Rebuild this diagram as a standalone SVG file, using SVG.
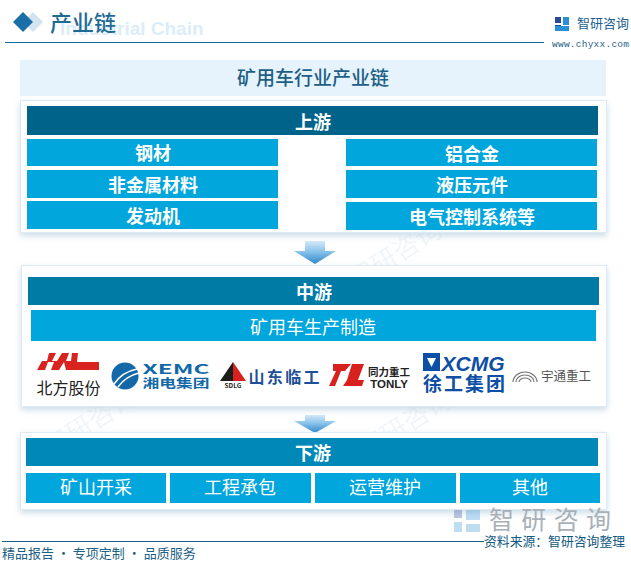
<svg xmlns="http://www.w3.org/2000/svg" width="631" height="570" viewBox="0 0 631 570">
<defs>
<linearGradient id="arr" x1="0" y1="0" x2="0" y2="1"><stop offset="0" stop-color="#d5e9f7"/><stop offset="0.5" stop-color="#82bfe8"/><stop offset="1" stop-color="#2f87c8"/></linearGradient>
<filter id="sh" x="-5%" y="-10%" width="110%" height="125%"><feDropShadow dx="0" dy="3" stdDeviation="3" flood-color="#a9c6d8" flood-opacity="0.6"/></filter>
</defs>
<style>
text{font-family:"Noto Sans CJK SC","Liberation Sans",sans-serif}
.panel{fill:#fff;stroke:#dcebf6;stroke-width:1;filter:url(#sh)}
.box{fill:#00a6dc}
.t{fill:#fff;font-size:18px;text-anchor:middle}
.b{font-weight:700}
.wm{fill:#5b8db5;opacity:.08;font-size:26px;text-anchor:middle}
.lg{text-anchor:middle;font-weight:700}
</style>
<rect width="631" height="570" fill="#fff"/>
<g id="watermarks">
<text class="wm" transform="translate(400 262) rotate(-32)">智研咨询</text>
<text class="wm" transform="translate(95 430) rotate(-32)">智研咨询</text>
<text class="wm" transform="translate(410 432) rotate(-32)">智研咨询</text>
</g>
<g id="header">
<text x="60" y="35" font-size="19" font-weight="700" fill="#dcedf9" style="font-family:'Liberation Sans',sans-serif">Industrial Chain</text>
<polygon points="33,12 43,22 33,32 23,22" fill="#d3e4ef"/>
<polygon points="23,12 33,22 23,32 13,22" fill="#1a6fa8"/>
<text x="50" y="31" font-size="22" font-weight="500" fill="#1d6a96">产业链</text>
<rect x="5" y="42" width="539" height="1" fill="#0f6f9c"/>
<rect x="555" y="17" width="6" height="6" fill="#2b4a96"/><rect x="555" y="25" width="6" height="6" fill="#2b4a96"/><rect x="563" y="17" width="6" height="8" fill="#2b8fd6"/><rect x="555" y="26" width="14" height="5" fill="#2b8fd6"/>
<text x="577" y="28" font-size="13" fill="#1d5f92">智研咨询</text>
<text x="552" y="47" font-size="9.500" fill="#1f5f86" style="font-family:'Liberation Mono',monospace" textLength="77">www.chyxx.com</text>
</g>
<g id="title">
<rect x="20" y="60" width="586" height="36" fill="#e6f3fc"/>
<text x="313" y="85" font-size="19" font-weight="500" fill="#1d5f86" text-anchor="middle">矿用车行业产业链</text>
</g>
<g id="connectors">
<path d="M305 241H325V251H336L315 264L294 251H305Z" fill="url(#arr)"/>
<path d="M305 415H325V421H336L315 433L294 421H305Z" fill="url(#arr)"/>
</g>
<g id="upstream">
<rect class="panel" x="20.500" y="100.500" width="586" height="132"/>
<rect x="27" y="106" width="571" height="29" fill="#00648a"/>
<text class="t b" x="313" y="129">上游</text>
</g>
<g id="n1"><rect class="box" x="27" y="139" width="251" height="27"/><text class="t b" x="153" y="160">钢材</text></g>
<g id="n2"><rect class="box" x="27" y="170" width="251" height="28"/><text class="t b" x="153" y="192">非金属材料</text></g>
<g id="n3"><rect class="box" x="27" y="201" width="251" height="28"/><text class="t b" x="153" y="223">发动机</text></g>
<g id="n4"><rect class="box" x="346" y="139" width="251" height="27"/><text class="t b" x="472" y="161">铝合金</text></g>
<g id="n5"><rect class="box" x="346" y="170" width="251" height="28"/><text class="t b" x="472" y="192">液压元件</text></g>
<g id="n6"><rect class="box" x="346" y="202" width="251" height="28"/><text class="t b" x="472" y="224">电气控制系统等</text></g>
<g id="midstream">
<rect class="panel" x="21.500" y="265.500" width="585" height="141"/>
<rect x="28" y="277" width="571" height="28" fill="#007ba6"/>
<text class="t b" x="314" y="299">中游</text>
<rect class="box" x="31" y="310" width="565" height="31"/>
<text class="t" x="313" y="334">矿用车生产制造</text>
</g>
<g id="logo-beifang">
<path d="M37 370L42 361H47L49 353H56L52 361H57L62 353H69L66 361H71L72 353H78L77 362H99V370H66L64 362L59 370H51L54 362H48L45 370Z" fill="#d9231f"/>
<text x="68.500" y="394" font-size="16" fill="#222" text-anchor="middle">北方股份</text>
</g>
<g id="logo-xemc">
<circle cx="125" cy="376" r="13.500" fill="#1368a8"/>
<path d="M114 384Q122 372 137 369M118 387Q126 376 139 373" stroke="#fff" stroke-width="1.500" fill="none"/>
<text class="lg" x="176" y="374" font-size="13" fill="#1368a8" textLength="67" lengthAdjust="spacingAndGlyphs">XEMC</text>
<text class="lg" x="176" y="388" font-size="12" fill="#1368a8" textLength="67" lengthAdjust="spacingAndGlyphs">湘电集团</text>
</g>
<g id="logo-sdlg">
<polygon points="233,362 220,381 233,381" fill="#1c1c1c"/><polygon points="233,362 246,381 233,381" fill="#d8201f"/>
<text class="lg" x="233" y="388" font-size="6.500" fill="#222">SDLG</text>
<text class="lg" x="284" y="383" font-size="16" fill="#1f4f96" textLength="71" lengthAdjust="spacing">山东临工</text>
</g>
<g id="logo-tonly">
<polygon points="329,364 347,364 341,371 337,371 331,386 325,386 332,371 329,371" fill="#d8201f" transform="translate(4 0)"/>
<polygon points="352,364 364,364 358,380 364,380 362,386 343,386 347,380 352,364" fill="#d8201f"/>
<text x="389" y="376" font-size="10.500" font-weight="700" fill="#222" text-anchor="middle">同力重工</text>
<text x="389" y="388" font-size="11.500" font-weight="700" fill="#222" text-anchor="middle" style="font-family:'Liberation Sans',sans-serif">TONLY</text>
</g>
<g id="logo-xcmg">
<rect x="423" y="353" width="17" height="18" fill="#0d4ea6"/><polygon points="427,358 436,358 431.500,367" fill="#fff"/>
<text x="473" y="371" font-size="21" font-weight="700" font-style="italic" fill="#0d4ea6" text-anchor="middle" textLength="63" lengthAdjust="spacingAndGlyphs" style="font-family:'Liberation Sans',sans-serif">XCMG</text>
<text class="lg" x="464" y="391" font-size="19" fill="#0d4ea6" textLength="82" lengthAdjust="spacing">徐工集团</text>
</g>
<g id="logo-yutong">
<path d="M513 382a12 10 0 0 1 24 0M516 382a9 7 0 0 1 18 0M519 382a6 4 0 0 1 12 0" fill="none" stroke="#777" stroke-width="1.200"/>
<text x="566" y="381" font-size="12.500" fill="#555" text-anchor="middle" textLength="50" lengthAdjust="spacing">宇通重工</text>
</g>
<g id="downstream">
<rect class="panel" x="20.500" y="432.500" width="586" height="77"/>
<rect x="26" y="438" width="572" height="28" fill="#0089b8"/>
<text class="t b" x="313" y="460">下游</text>
</g>
<g id="n7"><rect class="box" x="26" y="473" width="140" height="30"/><text class="t" x="96" y="494">矿山开采</text></g>
<g id="n8"><rect class="box" x="170" y="473" width="141" height="30"/><text class="t" x="240" y="494">工程承包</text></g>
<g id="n9"><rect class="box" x="315" y="473" width="141" height="30"/><text class="t" x="385" y="494">运营维护</text></g>
<g id="n10"><rect class="box" x="460" y="473" width="140" height="30"/><text class="t" x="530" y="494">其他</text></g>
<g id="footer">
<g opacity=".3"><rect x="454" y="510" width="8" height="8" fill="#2b4a96"/><rect x="454" y="522" width="8" height="10" fill="#2b8fd6"/><rect x="466" y="510" width="14" height="10" fill="#2b8fd6"/><rect x="466" y="524" width="14" height="8" fill="#2b8fd6"/></g>
<text x="489" y="529" font-size="25" fill="#a8b0b7" textLength="122" lengthAdjust="spacing">智研咨询</text>
<rect x="2" y="541" width="482" height="1" fill="#1d6288"/>
<text x="2" y="558" font-size="13" fill="#1d5f86">精品报告 · 专项定制 · 品质服务</text>
<text x="484" y="546" font-size="12.800" fill="#0f5a80" textLength="141" lengthAdjust="spacing">资料来源：智研咨询整理</text>
</g>
</svg>
